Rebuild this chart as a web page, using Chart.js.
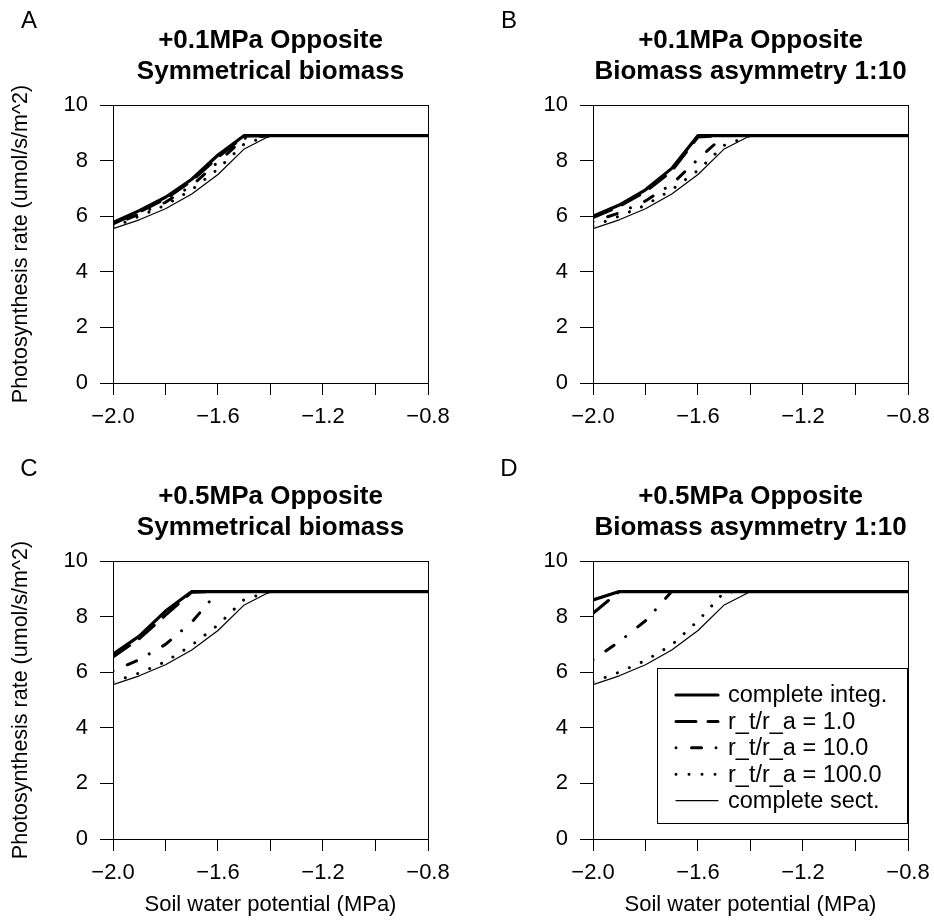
<!DOCTYPE html>
<html><head><meta charset="utf-8">
<script src="https://cdn.jsdelivr.net/npm/chart.js@4"></script>
<style>
html,body{margin:0;padding:0;background:#fff;}
#wrap{position:relative;width:934px;height:924px;background:#fff;}
canvas{position:absolute;}
</style></head><body>
<div id="wrap">
<canvas id="cA" width="480" height="456" style="left:0;top:0"></canvas>
<canvas id="cB" width="454" height="456" style="left:480px;top:0"></canvas>
<canvas id="cC" width="480" height="468" style="left:0;top:456px"></canvas>
<canvas id="cD" width="454" height="468" style="left:480px;top:456px"></canvas>
</div>
<script>
// ---- data ----
const xValues = [-2.0,-1.9,-1.8,-1.7,-1.6,-1.5,-1.4,-1.3,-1.2,-1.1,-1.0,-0.9,-0.8];
const seriesLabels = ['complete integ.','r_t/r_a = 1.0','r_t/r_a = 10.0','r_t/r_a = 100.0','complete sect.'];
const xTickValues = [-2.0,-1.6,-1.2,-0.8];
const xTickLabels = ['\u22122.0','\u22121.6','\u22121.2','\u22120.8'];
const yTickValues = [0,2,4,6,8,10];
const yTickLabels = ['0','2','4','6','8','10'];
const panelLetters = ['A','B','C','D'];
const panelTitles = [
  ['+0.1MPa Opposite','Symmetrical biomass'],
  ['+0.1MPa Opposite','Biomass asymmetry 1:10'],
  ['+0.5MPa Opposite','Symmetrical biomass'],
  ['+0.5MPa Opposite','Biomass asymmetry 1:10']
];
const xAxisTitle = 'Soil water potential (MPa)';
const yAxisTitle = 'Photosynthesis rate (umol/s/m^2)';

// Panel A
const integA = [5.77,6.20,6.68,7.33,8.20,8.90,8.90,8.90,8.90,8.90,8.90,8.90,8.90];
const r1A    = [5.72,6.15,6.62,7.27,8.12,8.88,8.90,8.90,8.90,8.90,8.90,8.90,8.90];
const r10A   = [5.68,6.08,6.50,7.10,7.95,8.80,8.90,8.90,8.90,8.90,8.90,8.90,8.90];
const r100A  = [5.60,6.00,6.40,6.95,7.70,8.60,8.90,8.90,8.90,8.90,8.90,8.90,8.90];
const sectA  = [5.55,5.87,6.27,6.80,7.50,8.42,8.90,8.90,8.90,8.90,8.90,8.90,8.90];
// Panel B
const integB = [6.00,6.40,6.95,7.72,8.90,8.90,8.90,8.90,8.90,8.90,8.90,8.90,8.90];
const r1B    = [5.95,6.35,6.88,7.62,8.85,8.90,8.90,8.90,8.90,8.90,8.90,8.90,8.90];
const r10B   = [5.80,6.12,6.55,7.15,8.05,8.90,8.90,8.90,8.90,8.90,8.90,8.90,8.90];
const r100B  = [5.65,6.00,6.40,6.95,7.65,8.55,8.90,8.90,8.90,8.90,8.90,8.90,8.90];
const sectB  = [5.55,5.87,6.27,6.80,7.50,8.42,8.90,8.90,8.90,8.90,8.90,8.90,8.90];
// Panel C
const integC = [6.65,7.30,8.20,8.90,8.90,8.90,8.90,8.90,8.90,8.90,8.90,8.90,8.90];
const r1C    = [6.55,7.20,8.05,8.88,8.90,8.90,8.90,8.90,8.90,8.90,8.90,8.90,8.90];
const r10C   = [6.05,6.45,7.00,7.80,8.90,8.90,8.90,8.90,8.90,8.90,8.90,8.90,8.90];
const r100C  = [5.65,5.97,6.38,6.97,7.70,8.62,8.90,8.90,8.90,8.90,8.90,8.90,8.90];
const sectC  = [5.55,5.87,6.27,6.80,7.50,8.42,8.90,8.90,8.90,8.90,8.90,8.90,8.90];
// Panel D
const integD = [8.60,8.90,8.90,8.90,8.90,8.90,8.90,8.90,8.90,8.90,8.90,8.90,8.90];
const r1D    = [8.12,8.90,8.90,8.90,8.90,8.90,8.90,8.90,8.90,8.90,8.90,8.90,8.90];
const r10D   = [6.45,7.10,7.85,8.90,8.90,8.90,8.90,8.90,8.90,8.90,8.90,8.90,8.90];
const r100D  = [5.65,6.00,6.42,6.98,7.85,8.88,8.90,8.90,8.90,8.90,8.90,8.90,8.90];
const sectD  = [5.55,5.87,6.27,6.80,7.50,8.42,8.90,8.90,8.90,8.90,8.90,8.90,8.90];

// ---- styles ----
const FONT = "'Liberation Sans', Arial, Helvetica, sans-serif";
Chart.defaults.font.family = FONT;
Chart.defaults.color = '#000';
const lineStyles = [
  {w:3.2, dash:[], cap:'round'},
  {w:3, dash:[20,12], cap:'round'},
  {w:3, dash:[0.01,15.5,10,14.5], cap:'round'},
  {w:3, dash:[0.01,13], cap:'round'},
  {w:1.2, dash:[], cap:'round'}
];

const framePlugin = {
  id:'frame',
  afterDatasetsDraw(chart){
    const a = chart.chartArea, ctx = chart.ctx;
    ctx.save();
    ctx.strokeStyle = '#000'; ctx.lineWidth = 1;
    ctx.strokeRect(Math.round(a.left)+0.5, Math.round(a.top)+0.5, Math.round(a.right)-Math.round(a.left), Math.round(a.bottom)-Math.round(a.top));
    ctx.restore();
  }
};
const letterPlugin = {
  id:'letter',
  afterDraw(chart, args, opts){
    const ctx = chart.ctx;
    ctx.save();
    ctx.font = '24px ' + FONT;
    ctx.fillStyle = '#000';
    ctx.textAlign = 'center'; ctx.textBaseline = 'middle';
    ctx.fillText(opts.text, opts.x, opts.y);
    ctx.restore();
  }
};
const legendBoxPlugin = {
  id:'legendBox',
  afterDraw(chart, args, opts){
    if (!opts.show) return;
    const a = chart.chartArea, ctx = chart.ctx;
    const bx = Math.round(a.right) - 251, by = Math.round(a.bottom) - 171;
    const bw = 250, bh = 155;
    ctx.save();
    ctx.fillStyle = '#fff';
    ctx.fillRect(bx, by, bw, bh);
    ctx.strokeStyle = '#000'; ctx.lineWidth = 1;
    ctx.strokeRect(bx+0.5, by+0.5, bw, bh);
    ctx.font = '23.5px ' + FONT;
    ctx.textAlign = 'left'; ctx.textBaseline = 'middle';
    chart.data.datasets.forEach((ds, i) => {
      const y = by + 27 + i*26.4;
      ctx.beginPath();
      ctx.strokeStyle = '#000';
      ctx.lineWidth = ds.borderWidth;
      ctx.lineCap = ds.borderCapStyle;
      ctx.setLineDash(ds.borderDash);
      ctx.moveTo(bx + 19, y); ctx.lineTo(bx + 61, y);
      ctx.stroke();
      ctx.setLineDash([]);
      ctx.fillStyle = '#000';
      ctx.fillText(ds.label, bx + 71, y + 1);
    });
    ctx.restore();
  }
};

function makePanel(id, idx, series, showX, showY, showLegend, rightPad, xAxisH, letterY){
  const datasets = series.map((arr, i) => ({
    label: seriesLabels[i],
    data: xValues.map((x, j) => ({x: x, y: arr[j]})),
    borderColor:'#000',
    borderWidth: lineStyles[i].w,
    borderDash: lineStyles[i].dash,
    borderCapStyle: lineStyles[i].cap,
    borderJoinStyle:'round',
    pointRadius:0, tension:0, fill:false,
    order: 5 - i
  }));
  return new Chart(document.getElementById(id), {
    type:'line',
    data:{datasets},
    options:{
      responsive:false, animation:false, devicePixelRatio:1,
      events:[],
      layout:{padding:{left:0, right:rightPad, top:0, bottom:0}},
      plugins:{
        legend:{display:false},
        tooltip:{enabled:false},
        title:{display:true, text:panelTitles[idx], fullSize:false, color:'#000',
               font:{size:26, weight:'bold', lineHeight:31/26},
               padding:{top:25, bottom:18}},
        letter:{text:panelLetters[idx], x:29, y:letterY},
        legendBox:{show:showLegend}
      },
      scales:{
        x:{type:'linear', min:-2, max:-0.8,
           afterFit(s){ s.height = xAxisH; s.paddingLeft = 0; s.paddingRight = 0; },
           ticks:{stepSize:0.2, autoSkip:false, maxRotation:0, minRotation:0, color:'#000',
                  font:{size:22}, padding:9,
                  callback(v){ const k = xTickValues.findIndex(t => Math.abs(t - v) < 1e-6); return k >= 0 ? xTickLabels[k] : ''; }},
           grid:{drawOnChartArea:false, drawTicks:true, tickLength:12, tickColor:'#000', tickWidth:1},
           border:{display:true, color:'#000', width:1},
           title:{display:showX, text:xAxisTitle, color:'#000', font:{size:22}, padding:{top:0, bottom:6}}},
        y:{type:'linear', min:0, max:10,
           afterFit(s){ s.width = 113; },
           ticks:{stepSize:2, color:'#000', font:{size:22}, padding:12,
                  callback(v){ const k = yTickValues.indexOf(Math.round(v*1000)/1000); return k >= 0 ? yTickLabels[k] : ''; }},
           grid:{drawOnChartArea:false, drawTicks:true, tickLength:13, tickColor:'#000', tickWidth:1},
           border:{display:true, color:'#000', width:1},
           title:{display:showY, text:yAxisTitle, color:'#000', font:{size:21.5}, padding:{top:8, bottom:0}}}
      }
    },
    plugins:[framePlugin, letterPlugin, legendBoxPlugin]
  });
}

makePanel('cA', 0, [integA, r1A, r10A, r100A, sectA], false, true, false, 52, 73, 21);
makePanel('cB', 1, [integB, r1B, r10B, r100B, sectB], false, false, false, 26, 73, 21);
makePanel('cC', 2, [integC, r1C, r10C, r100C, sectC], true, true, false, 52, 85, 13);
makePanel('cD', 3, [integD, r1D, r10D, r100D, sectD], true, false, true, 26, 85, 13);
</script>
</body></html>
